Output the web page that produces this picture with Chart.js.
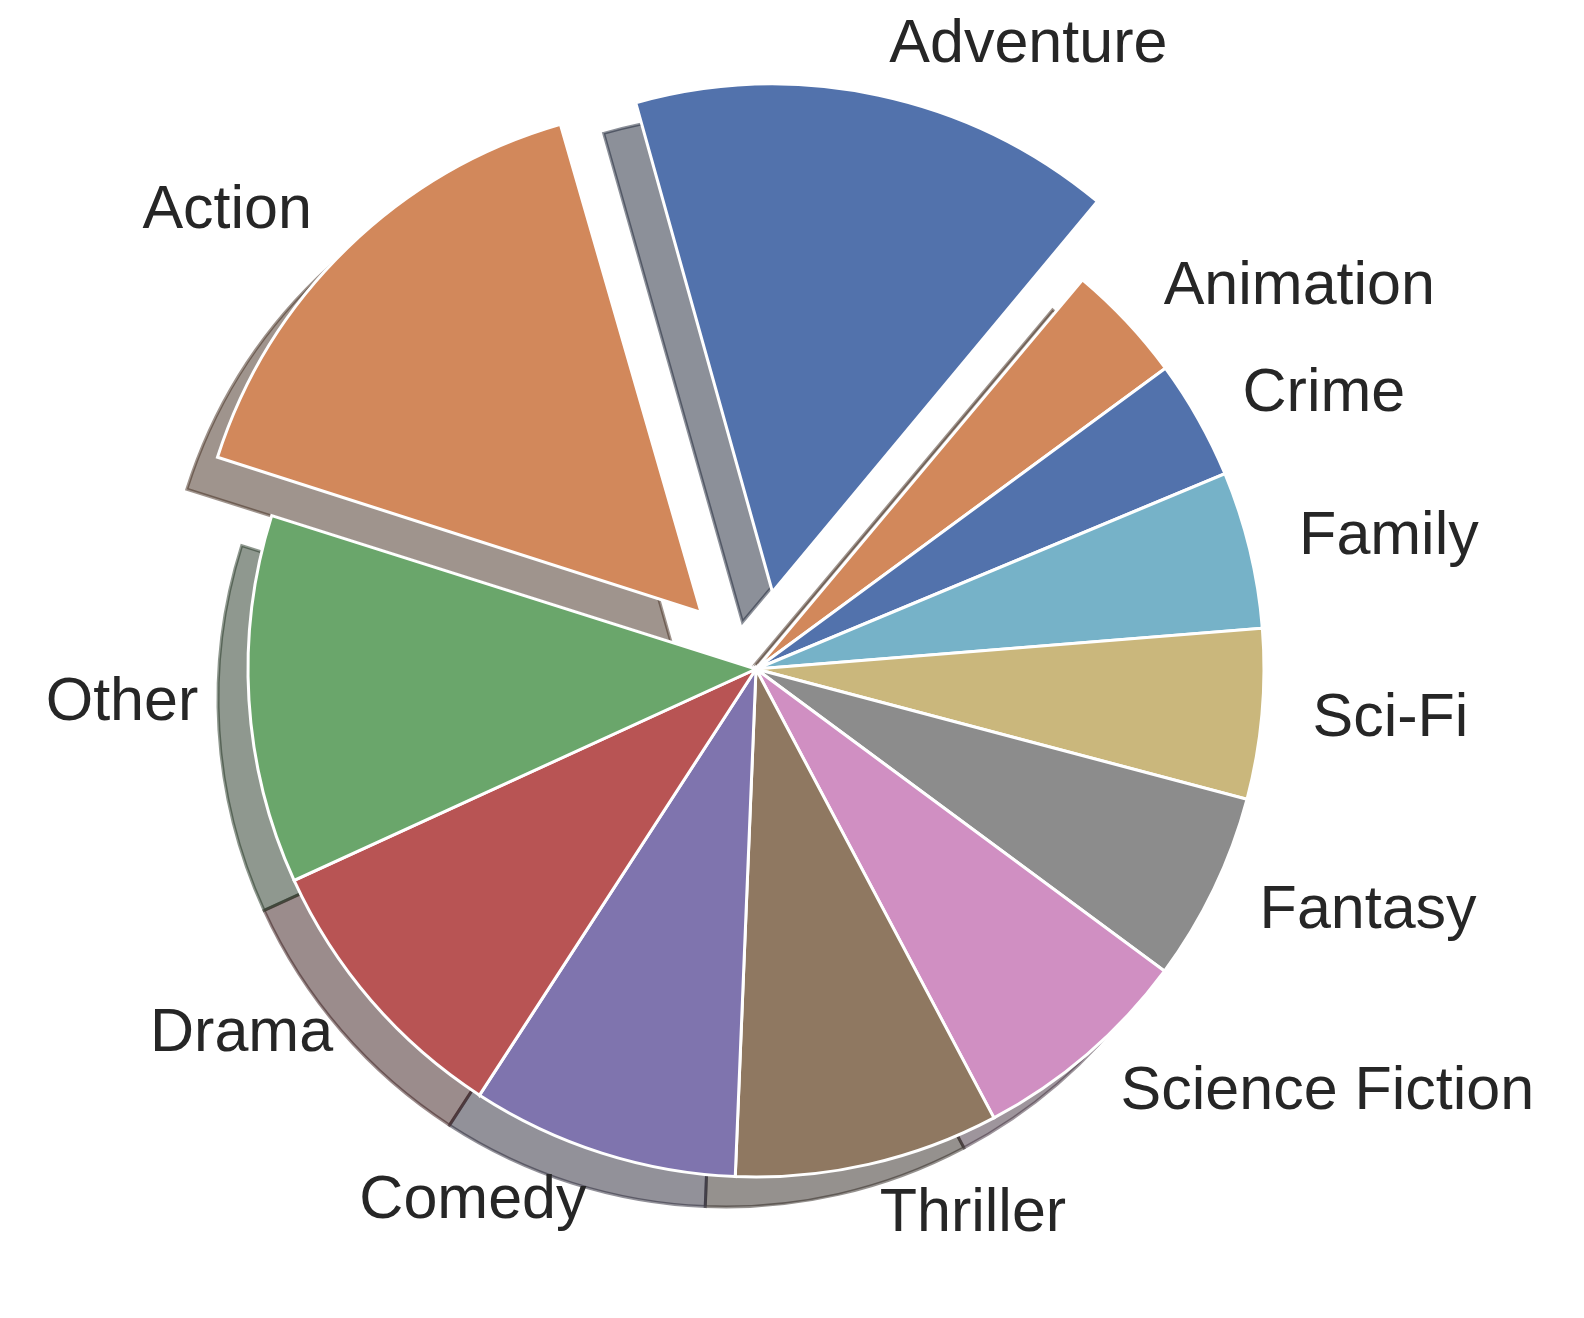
<!DOCTYPE html>
<html>
<head>
<meta charset="utf-8">
<script src="https://cdn.jsdelivr.net/npm/chart.js@4"></script>
<style>
  html, body { margin: 0; padding: 0; background: #fff; }
  #wrap { width: 1584px; height: 1318px; }
</style>
</head>
<body>
<div id="wrap"><canvas id="genre-pie"></canvas></div>
<script>
// genre shares (%), in matplotlib order (counter-clockwise)
const genres = ['Adventure', 'Action', 'Other', 'Drama', 'Comedy', 'Thriller',
                'Science Fiction', 'Fantasy', 'Sci-Fi', 'Family', 'Crime', 'Animation'];
const shares = [15.5, 15.7, 11.7, 9.0, 8.5, 8.4, 7.1, 6.0, 5.4, 5.0, 3.8, 3.8];
const explode = [0.155, 0.155, 0, 0, 0, 0, 0, 0, 0, 0, 0, 0];

const palette = ['#5272ac', '#d2885b', '#6aa66b', '#b85454', '#7f74ae',
                 '#8f7861', '#d08fc2', '#8c8c8c', '#cab77c', '#76b2c8'];

const RADIUS = 508;
const START_ANGLE = 50;     // degrees, from 3 o'clock, counter-clockwise
const SHADOW_DX = -30;
const SHADOW_DY = 30;

// chart.js draws clockwise, so flip the order
const labels = genres.slice().reverse();
const values = shares.slice().reverse();
const colors = genres.map((g, i) => palette[i % palette.length]).reverse();
const offsets = explode.slice().reverse().map(e => e * RADIUS * 4);

function shade(hex) {
    const n = parseInt(hex.slice(1), 16);
    const r = (n >> 16) & 255, g = (n >> 8) & 255, b = n & 255;
    return `rgba(${Math.round(r * 0.3)},${Math.round(g * 0.3)},${Math.round(b * 0.3)},0.5)`;
}

// chart.js grows an offset arc's radius a bit; undo that so slices keep one radius
const keepRadius = {
    id: 'keepRadius',
    afterDatasetUpdate(chart, args) {
        const meta = args.meta;
        const R = meta.controller.outerRadius;
        meta.data.forEach(arc => {
            const off = ((arc.options && arc.options.offset) || 0) / 4;
            const circ = arc.endAngle - arc.startAngle;
            arc.outerRadius = R - off * (1 - Math.sin(Math.min(Math.PI, circ)));
        });
    }
};

const pieShadow = {
    id: 'pieShadow',
    beforeDatasetsDraw(chart) {
        const meta = chart.getDatasetMeta(0);
        const R = meta.controller.outerRadius;
        const ctx = chart.ctx;
        ctx.save();
        meta.data.forEach((arc, i) => {
            const mid = (arc.startAngle + arc.endAngle) / 2;
            const off = (arc.options.offset || 0) / 4;
            const x = arc.x + Math.cos(mid) * off + SHADOW_DX;
            const y = arc.y + Math.sin(mid) * off + SHADOW_DY;
            const c = shade(colors[i]);
            ctx.beginPath();
            ctx.moveTo(x, y);
            ctx.arc(x, y, R, arc.startAngle, arc.endAngle);
            ctx.closePath();
            ctx.fillStyle = c;
            ctx.fill();
            ctx.lineWidth = 3;
            ctx.lineJoin = 'miter';
            ctx.strokeStyle = c;
            ctx.stroke();
        });
        ctx.restore();
    }
};

const outerLabels = {
    id: 'outerLabels',
    afterDatasetsDraw(chart) {
        const meta = chart.getDatasetMeta(0);
        const R = meta.controller.outerRadius;
        const ctx = chart.ctx;
        ctx.save();
        ctx.font = '61px "Liberation Sans", Arial, sans-serif';
        ctx.fillStyle = '#262626';
        ctx.textBaseline = 'middle';
        meta.data.forEach((arc, i) => {
            const mid = (arc.startAngle + arc.endAngle) / 2;
            const dist = (arc.options.offset || 0) / 4 + 1.1 * R;
            const x = arc.x + Math.cos(mid) * dist;
            const y = arc.y + Math.sin(mid) * dist;
            ctx.textAlign = Math.cos(mid) >= 0 ? 'left' : 'right';
            ctx.fillText(labels[i], x, y);
        });
        ctx.restore();
    }
};

const ctx = document.getElementById('genre-pie').getContext('2d');
const chartPie = new Chart(ctx, {
    type: 'pie',
    data: {
        labels: labels,
        datasets: [{
            data: values,
            backgroundColor: colors,
            borderColor: '#ffffff',
            borderWidth: 3,
            borderJoinStyle: 'miter',
            offset: offsets,
            hoverOffset: 0
        }]
    },
    options: {
        responsive: true,
        maintainAspectRatio: false,
        animation: false,
        radius: RADIUS,
        rotation: 90 - START_ANGLE,
        layout: {
            padding: { left: 0, right: 72, top: 20, bottom: 0 }
        },
        plugins: {
            legend: { display: false },
            tooltip: { enabled: false }
        },
        events: []
    },
    plugins: [keepRadius, pieShadow, outerLabels]
});
</script>
</body>
</html>
